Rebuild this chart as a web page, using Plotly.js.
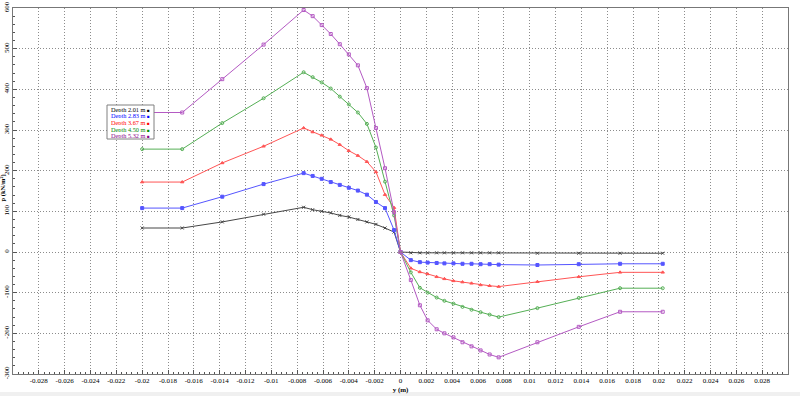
<!DOCTYPE html>
<html>
<head>
<meta charset="utf-8">
<script src="https://cdn.plot.ly/plotly-3.0.1.min.js"></script>
<style>html,body{margin:0;padding:0;background:#fff;}#chart{width:800px;height:396px;}</style>
</head>
<body>
<div id="chart"></div>
<script>
// ---- data ----
const xLeft  = [-0.0200, -0.0169, -0.0138, -0.0106, -0.0075, -0.0068, -0.0061, -0.0054, -0.0047, -0.0040, -0.0033, -0.0026, -0.0019, -0.0012, -0.0005, 0];
const xRight = [0.0008, 0.0015, 0.0021, 0.0028, 0.0034, 0.0041, 0.0048, 0.0055, 0.0062, 0.0069, 0.0076, 0.0106, 0.0138, 0.0170, 0.0203];

const depthNames = ["Depth 2.01 m", "Depth 2.83 m", "Depth 3.67 m", "Depth 4.50 m", "Depth 5.32 m"];

const p201 = [59, 59, 74, 93, 110, 104, 100, 96, 90, 86, 80, 74, 68, 59, 49, 0,
              -2, -2, -2, -2, -2, -2, -2, -2, -2, -2, -2, -3, -3, -3, -3];
const p283 = [108, 108, 136, 167, 194, 187, 180, 172, 165, 158, 151, 141, 123, 108, 54, 0,
              -20, -25, -26, -27, -28, -28, -29, -29, -30, -30, -31, -32, -30, -29, -29];
const p367 = [172, 172, 219, 260, 305, 295, 287, 277, 264, 249, 237, 222, 197, 141, 109, 0,
              -40, -49, -54, -61, -66, -71, -74, -77, -81, -83, -85, -73, -61, -50, -50];
const p450 = [253, 253, 317, 378, 442, 430, 417, 402, 382, 363, 343, 315, 257, 173, 90, 0,
              -50, -88, -100, -112, -120, -127, -135, -142, -148, -154, -160, -138, -113, -89, -89];
const p532 = [343, 343, 425, 510, 595, 580, 558, 536, 511, 486, 459, 403, 305, 206, 98, 0,
              -69, -131, -168, -190, -200, -210, -222, -232, -242, -252, -259, -222, -184, -147, -147];

const xTickVals = [-0.028, -0.026, -0.024, -0.022, -0.02, -0.018, -0.016, -0.014, -0.012, -0.01, -0.008, -0.006, -0.004, -0.002, 0,
                   0.002, 0.004, 0.006, 0.008, 0.01, 0.012, 0.014, 0.016, 0.018, 0.02, 0.022, 0.024, 0.026, 0.028];
const xTickText = ["-0.028", "-0.026", "-0.024", "-0.022", "-0.02", "-0.018", "-0.016", "-0.014", "-0.012", "-0.01", "-0.008", "-0.006", "-0.004", "-0.002", "0",
                   "0.002", "0.004", "0.006", "0.008", "0.01", "0.012", "0.014", "0.016", "0.018", "0.02", "0.022", "0.024", "0.026", "0.028"];
const yTickVals = [-300, -200, -100, 0, 100, 200, 300, 400, 500, 600];
const yTickText = ["-300", "-200", "-100", "0", "100", "200", "300", "400", "500", "600"];
const xTitle = "y (m)";
const yTitle = "p (kN/m²)";

// ---- styles ----
const lineColors = ["rgb(70,70,70)", "rgb(85,85,255)", "rgb(255,85,85)", "rgb(85,175,85)", "rgb(180,90,195)"];
const textColors = ["#000000", "#0000ff", "#ff0000", "#008800", "#880088"];
const symbols = ["x-thin-open", "square", "triangle-up", "circle-open", "square-open"];
const seriesValues = [p201, p283, p367, p450, p532];
const xAll = xLeft.concat(xRight);

const traces = seriesValues.map((vals, i) => ({
  type: "scatter",
  mode: "lines+markers",
  name: depthNames[i],
  x: xAll,
  y: vals,
  line: {color: lineColors[i], width: 1},
  marker: {color: lineColors[i], size: 3, symbol: symbols[i], line: {color: lineColors[i], width: 1}},
  showlegend: false,
  hoverinfo: "x+y+name"
}));

// plot box geometry in pixels
const W = 800, H = 396, L = 13, R = 12, T = 8, B = 22;
const pw = W - L - R, ph = H - T - B;
const px2x = p => (p - L) / pw;
const px2y = p => (H - B - p) / ph;

const serif = "Liberation Serif, Times New Roman, serif";

const annotations = depthNames.map((n, i) => ({
  xref: "paper", yref: "paper",
  x: px2x(108.5), y: px2y(108.5 + i * 6.7),
  xanchor: "left", yanchor: "middle",
  height: 6, valign: "middle",
  text: n + ' <span style="font-size:4.5px">■</span>',
  showarrow: false,
  font: {family: serif, size: 6.3, color: textColors[i]}
}));
annotations.push({
  xref: "paper", yref: "paper",
  x: px2x(2.5), y: px2y(188),
  xanchor: "center", yanchor: "middle",
  textangle: -90, borderpad: 0,
  text: "<b>" + yTitle + "</b>",
  showarrow: false,
  font: {family: serif, size: 6.5, color: "#000"}
});

const shapes = [
  {type: "rect", xref: "paper", yref: "paper", x0: px2x(107), x1: px2x(154), y0: px2y(139), y1: px2y(105),
   line: {color: "#808080", width: 1}, fillcolor: "#ffffff", layer: "above"},
  {type: "rect", xref: "paper", yref: "paper", x0: -0.05, x1: 1.05, y0: px2y(396), y1: px2y(392),
   line: {width: 0}, fillcolor: "#f0f0f0", layer: "below"}
];

const gridDash = "1px,2px";

const layout = {
  width: W, height: H,
  margin: {l: L, r: R, t: T, b: B, pad: 0},
  paper_bgcolor: "#ffffff",
  plot_bgcolor: "#ffffff",
  font: {family: serif, size: 7, color: "#000"},
  xaxis: {
    range: [-0.03, 0.03],
    tickvals: xTickVals, ticktext: xTickText,
    ticks: "inside", ticklen: 4, tickcolor: "#555",
    minor: {dtick: 0.0004, ticks: "inside", ticklen: 2, tickcolor: "#555", showgrid: false},
    showgrid: true, gridcolor: "#8c8c8c", griddash: gridDash, gridwidth: 1,
    zeroline: false,
    showline: true, linecolor: "#777", linewidth: 1, mirror: true,
    tickfont: {family: serif, size: 7, color: "#000"},
    title: {text: "<b>" + xTitle + "</b>", font: {family: serif, size: 7, color: "#000"}, standoff: 2}
  },
  yaxis: {
    range: [-300, 600],
    tickvals: yTickVals, ticktext: yTickText,
    tickangle: -90,
    ticks: "inside", ticklen: 4, tickcolor: "#555",
    minor: {dtick: 20, ticks: "inside", ticklen: 2, tickcolor: "#555", showgrid: false},
    showgrid: true, gridcolor: "#8c8c8c", griddash: gridDash, gridwidth: 1,
    zeroline: false,
    showline: true, linecolor: "#777", linewidth: 1, mirror: true,
    tickfont: {family: serif, size: 7, color: "#000"}
  },
  annotations: annotations,
  shapes: shapes,
  showlegend: false
};

Plotly.newPlot("chart", traces, layout, {displayModeBar: false, staticPlot: true});
</script>
</body>
</html>
